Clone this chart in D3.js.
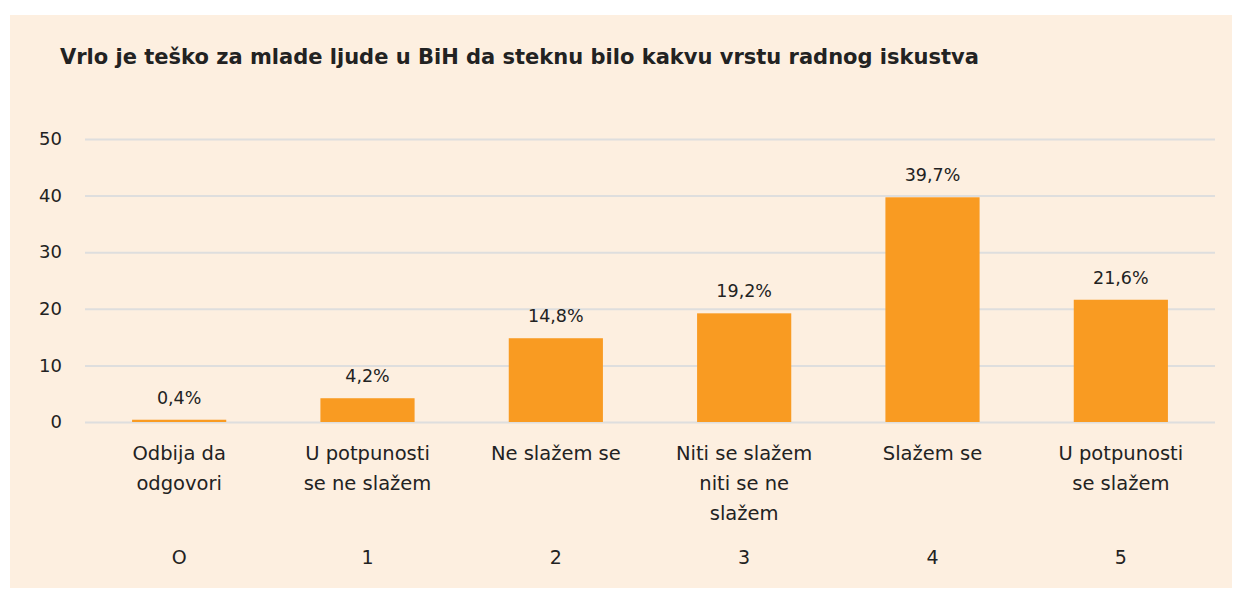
<!DOCTYPE html>
<html>
<head>
<meta charset="utf-8">
<script src="https://cdn.jsdelivr.net/npm/d3@7"></script>
<style>
  body { margin: 0; background: #fff; }
  svg text { font-family: "DejaVu Sans", sans-serif; fill: #222; }
</style>
</head>
<body>
<svg width="1244" height="590"></svg>
<script>
// chart data
const codes = ["O", "1", "2", "3", "4", "5"];
const categories = [
    ["Odbija da", "odgovori"],
    ["U potpunosti", "se ne slažem"],
    ["Ne slažem se"],
    ["Niti se slažem", "niti se ne", "slažem"],
    ["Slažem se"],
    ["U potpunosti", "se slažem"]
];
const values = [0.4, 4.2, 14.8, 19.2, 39.7, 21.6];
const yTicks = [0, 10, 20, 30, 40, 50];

const svg = d3.select("svg");

svg.append("rect")
    .attr("x", 10).attr("y", 15)
    .attr("width", 1222).attr("height", 573)
    .attr("fill", "#fdefe0");

svg.append("text")
    .attr("x", 60).attr("y", 64)
    .attr("font-size", 21).attr("font-weight", 700)
    .attr("fill", "#111")
    .text("Vrlo je teško za mlade ljude u BiH da steknu bilo kakvu vrstu radnog iskustva");

const x = d3.scaleBand()
    .domain(codes)
    .range([85, 1215])
    .paddingInner(0.5)
    .paddingOuter(0.25);

const y = d3.scaleLinear()
    .domain([0, 50])
    .range([422, 139]);

// grid + y labels
const yAxis = svg.append("g")
    .attr("transform", "translate(85,0)")
    .call(d3.axisLeft(y).tickValues(yTicks).tickSize(-1130).tickPadding(23));
yAxis.select(".domain").remove();
yAxis.selectAll(".tick line").attr("stroke", "#dedede").attr("stroke-width", 2);
yAxis.selectAll(".tick text").attr("font-size", 18).attr("fill", "#222");

// bars
svg.selectAll("rect.bar")
    .data(values)
    .enter()
    .append("rect")
    .attr("class", "bar")
    .attr("x", (d, i) => x(codes[i]))
    .attr("y", d => y(d))
    .attr("width", x.bandwidth())
    .attr("height", d => y(0) - y(d))
    .attr("fill", "#f99b22");

// value labels
svg.selectAll("text.val")
    .data(values)
    .enter()
    .append("text")
    .attr("class", "val")
    .attr("x", (d, i) => x(codes[i]) + x.bandwidth() / 2)
    .attr("y", d => y(d) - 16)
    .attr("text-anchor", "middle")
    .attr("font-size", 17.5)
    .text(d => d.toFixed(1).replace(".", ",") + "%");

// category labels
const catG = svg.selectAll("text.cat")
    .data(categories)
    .enter()
    .append("text")
    .attr("class", "cat")
    .attr("text-anchor", "middle")
    .attr("font-size", 19.5);
catG.selectAll("tspan")
    .data((d, i) => d.map(s => ({s, i})))
    .enter()
    .append("tspan")
    .attr("x", d => x(codes[d.i]) + x.bandwidth() / 2)
    .attr("y", (d, j) => 460 + j * 30)
    .text(d => d.s);

// code row
svg.selectAll("text.code")
    .data(codes)
    .enter()
    .append("text")
    .attr("class", "code")
    .attr("x", d => x(d) + x.bandwidth() / 2)
    .attr("y", 564)
    .attr("text-anchor", "middle")
    .attr("font-size", 19)
    .text(d => d);
</script>
</body>
</html>
